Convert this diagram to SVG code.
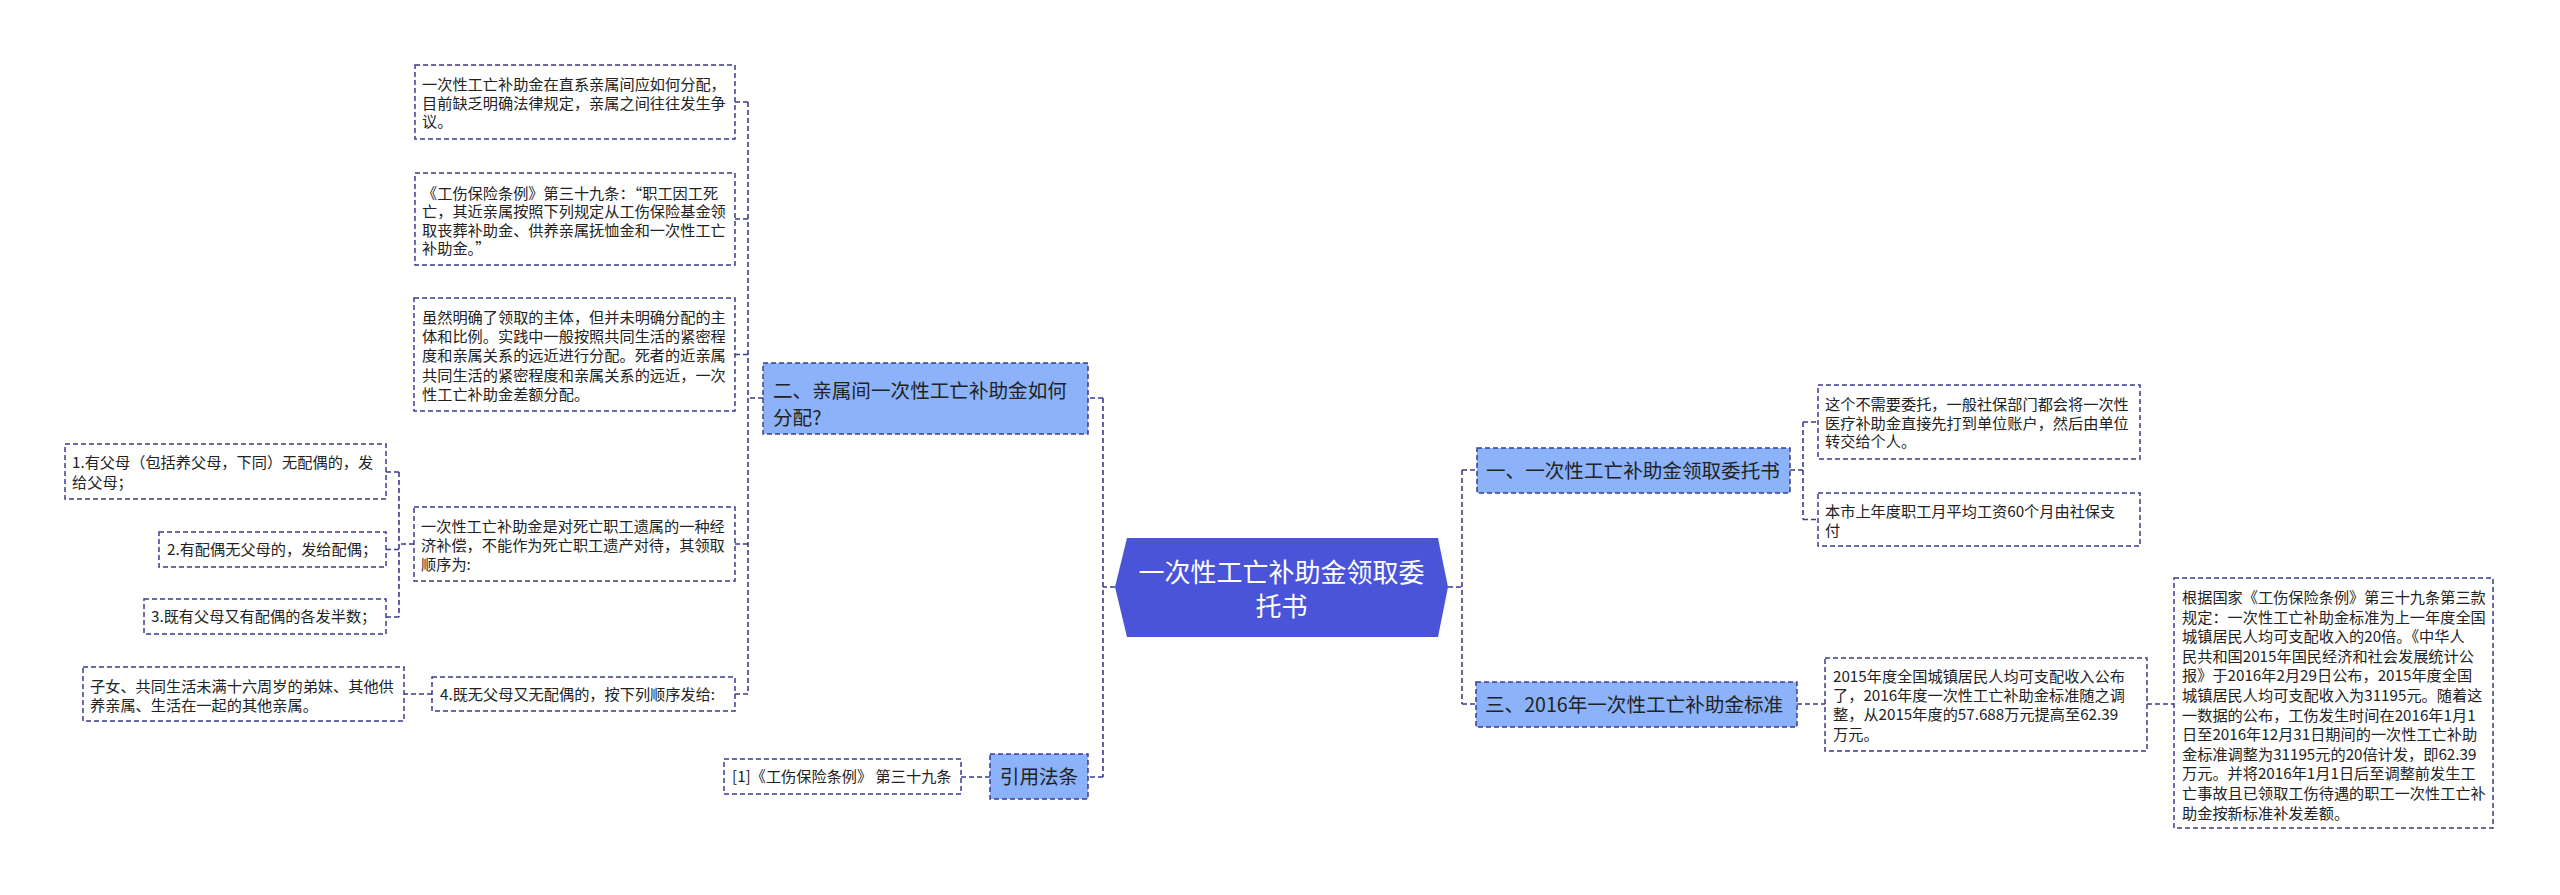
<svg xmlns="http://www.w3.org/2000/svg" width="2560" height="895" viewBox="0 0 2560 895">
<style>
.bg{fill:#ffffff}
.box{fill:#ffffff;stroke:#3b3b8e;stroke-width:1.5;stroke-dasharray:5 3}
.lv1{fill:#8cb3f9;stroke:#3b3b8e;stroke-width:1.5;stroke-dasharray:5 3}
.root{fill:#4a54d8}
.conn{fill:none;stroke:#3b3b8e;stroke-width:1.6;stroke-dasharray:5 3}
text{font-family:"Microsoft YaHei","Noto Sans CJK SC","Noto Sans",sans-serif;fill:#222222}
.t{font-size:15.2px}
.t1{font-size:19.6px}
.tr{font-size:26px;fill:#ffffff}
</style>
<rect class="bg" x="0" y="0" width="2560" height="895"/>
<g id="connectors">
<path class="conn" d="M1115,587 H1103 M1103,398 V777 M1103,398 H1088 M1103,777 H1088"/>
<path class="conn" d="M1448,587 H1462 M1462,470 V704 M1462,470 H1477 M1462,704 H1476"/>
<path class="conn" d="M763,398 H748 M748,102 V694 M748,102 H735 M748,219 H735 M748,354.5 H735 M748,544 H735 M748,694 H735"/>
<path class="conn" d="M414,544 H399 M399,472 V617 M399,472 H386 M399,549.5 H386 M399,617 H386"/>
<path class="conn" d="M432,694 H404"/>
<path class="conn" d="M990,777 H961"/>
<path class="conn" d="M1790,470 H1803 M1803,422 V519.5 M1803,422 H1818 M1803,519.5 H1818"/>
<path class="conn" d="M1797,704 H1825"/>
<path class="conn" d="M2147,704 H2174"/>
</g>
<g id="root">
<polygon class="root" points="1127,538 1438,538 1448,587 1438,637 1127,637 1115,587"/>
<text class="tr" text-anchor="middle"><tspan x="1281.5" y="582">一次性工亡补助金领取委</tspan><tspan x="1281.5" y="616">托书</tspan></text>
</g>
<g id="n2">
<rect class="lv1" x="763" y="363" width="325" height="71"/>
<text class="t1"><tspan x="773" y="397.5">二、亲属间一次性工亡补助金如何</tspan><tspan x="773" y="424.5">分配?</tspan></text>
</g>
<g id="b1">
<rect class="box" x="415" y="65" width="320" height="74"/>
<text class="t"><tspan x="422" y="90">一次性工亡补助金在直系亲属间应如何分配，</tspan><tspan x="422" y="108.5">目前缺乏明确法律规定，亲属之间往往发生争</tspan><tspan x="422" y="127">议。</tspan></text>
</g>
<g id="b2">
<rect class="box" x="415" y="173" width="320" height="92"/>
<text class="t"><tspan x="422" y="198.5">《工伤保险条例》第三十九条：“职工因工死</tspan><tspan x="422" y="217">亡，其近亲属按照下列规定从工伤保险基金领</tspan><tspan x="422" y="235.5">取丧葬补助金、供养亲属抚恤金和一次性工亡</tspan><tspan x="422" y="254">补助金。”</tspan></text>
</g>
<g id="b3">
<rect class="box" x="414" y="298" width="321" height="113"/>
<text class="t"><tspan x="422" y="323">虽然明确了领取的主体，但并未明确分配的主</tspan><tspan x="422" y="342.2">体和比例。实践中一般按照共同生活的紧密程</tspan><tspan x="422" y="361.4">度和亲属关系的远近进行分配。死者的近亲属</tspan><tspan x="422" y="380.6">共同生活的紧密程度和亲属关系的远近，一次</tspan><tspan x="422" y="399.8">性工亡补助金差额分配。</tspan></text>
</g>
<g id="b4">
<rect class="box" x="414" y="507" width="321" height="74"/>
<text class="t"><tspan x="421" y="532">一次性工亡补助金是对死亡职工遗属的一种经</tspan><tspan x="421" y="551">济补偿，不能作为死亡职工遗产对待，其领取</tspan><tspan x="421" y="570">顺序为:</tspan></text>
</g>
<g id="b5">
<rect class="box" x="432" y="677" width="303" height="34"/>
<text class="t"><tspan x="440" y="699.5">4.既无父母又无配偶的，按下列顺序发给:</tspan></text>
</g>
<g id="c0">
<rect class="box" x="83" y="667" width="321" height="54"/>
<text class="t"><tspan x="90" y="692">子女、共同生活未满十六周岁的弟妹、其他供</tspan><tspan x="90" y="710.5">养亲属、生活在一起的其他亲属。</tspan></text>
</g>
<g id="p1">
<rect class="box" x="65" y="444" width="321" height="55"/>
<text class="t"><tspan x="72" y="468">1.有父母（包括养父母，下同）无配偶的，发</tspan><tspan x="72" y="487.5">给父母；</tspan></text>
</g>
<g id="p2">
<rect class="box" x="159" y="532" width="227" height="35"/>
<text class="t"><tspan x="167" y="554.5">2.有配偶无父母的，发给配偶；</tspan></text>
</g>
<g id="p3">
<rect class="box" x="144" y="599" width="242" height="35"/>
<text class="t"><tspan x="151" y="621.5">3.既有父母又有配偶的各发半数；</tspan></text>
</g>
<g id="law">
<rect class="lv1" x="990" y="754" width="98" height="45"/>
<text class="t1" text-anchor="middle"><tspan x="1039" y="784">引用法条</tspan></text>
</g>
<g id="law1">
<rect class="box" x="724" y="759" width="237" height="35"/>
<text class="t"><tspan x="732" y="782">[1]《工伤保险条例》 第三十九条</tspan></text>
</g>
<g id="n1">
<rect class="lv1" x="1477" y="448" width="313" height="45"/>
<text class="t1"><tspan x="1486" y="478">一、一次性工亡补助金领取委托书</tspan></text>
</g>
<g id="a1">
<rect class="box" x="1818" y="385" width="322" height="74"/>
<text class="t"><tspan x="1825" y="410">这个不需要委托，一般社保部门都会将一次性</tspan><tspan x="1825" y="428.5">医疗补助金直接先打到单位账户，然后由单位</tspan><tspan x="1825" y="447">转交给个人。</tspan></text>
</g>
<g id="a2">
<rect class="box" x="1818" y="493" width="322" height="53"/>
<text class="t"><tspan x="1825" y="517">本市上年度职工月平均工资60个月由社保支</tspan><tspan x="1825" y="536">付</tspan></text>
</g>
<g id="n3">
<rect class="lv1" x="1476" y="682" width="321" height="45"/>
<text class="t1"><tspan x="1485" y="712">三、2016年一次性工亡补助金标准</tspan></text>
</g>
<g id="s1">
<rect class="box" x="1825" y="658" width="322" height="93"/>
<text class="t"><tspan x="1833" y="682">2015年度全国城镇居民人均可支配收入公布</tspan><tspan x="1833" y="701.2">了，2016年度一次性工亡补助金标准随之调</tspan><tspan x="1833" y="720.4">整，从2015年度的57.688万元提高至62.39</tspan><tspan x="1833" y="739.6">万元。</tspan></text>
</g>
<g id="s2">
<rect class="box" x="2174" y="578" width="319" height="250"/>
<text class="t"><tspan x="2182" y="603">根据国家《工伤保险条例》第三十九条第三款</tspan><tspan x="2182" y="622.6">规定：一次性工亡补助金标准为上一年度全国</tspan><tspan x="2182" y="642.2">城镇居民人均可支配收入的20倍。《中华人</tspan><tspan x="2182" y="661.8">民共和国2015年国民经济和社会发展统计公</tspan><tspan x="2182" y="681.4">报》于2016年2月29日公布，2015年度全国</tspan><tspan x="2182" y="701">城镇居民人均可支配收入为31195元。随着这</tspan><tspan x="2182" y="720.6">一数据的公布，工伤发生时间在2016年1月1</tspan><tspan x="2182" y="740.2">日至2016年12月31日期间的一次性工亡补助</tspan><tspan x="2182" y="759.8">金标准调整为31195元的20倍计发，即62.39</tspan><tspan x="2182" y="779.4">万元。并将2016年1月1日后至调整前发生工</tspan><tspan x="2182" y="799">亡事故且已领取工伤待遇的职工一次性工亡补</tspan><tspan x="2182" y="818.6">助金按新标准补发差额。</tspan></text>
</g>
</svg>
